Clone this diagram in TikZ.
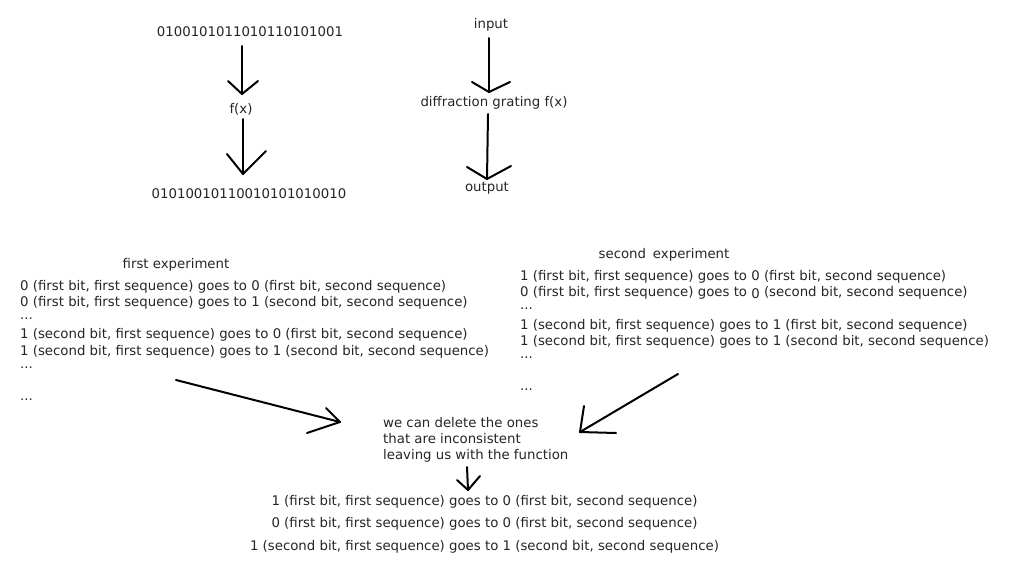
\documentclass[tikz,border=0pt]{standalone}
\usepackage{fontspec}
\setmainfont{DejaVu Sans}
\begin{document}
\begin{tikzpicture}[x=1pt,y=-1pt,
  every node/.style={font=\fontsize{13.3}{16}\selectfont, inner sep=0pt, text=black!85, yshift=-2pt},
  hand/.style={line width=2pt, line cap=round, line join=round},
  row/.style={anchor=west}]
\useasboundingbox[fill=white] (0,0) rectangle (1033,581);

% top left chain
\node (bitsA) at (250,30) {0100101011010110101001};
\node (fx) at (241,107) {f(x)};
\node (bitsB) at (249,192) {01010010110010101010010};
\coordinate (a1s) at (242,44);  \coordinate (a1t) at (242,92);
\coordinate (a1l) at (228,79);  \coordinate (a1r) at (258,79);
\coordinate (a2s) at (243,117); \coordinate (a2t) at (243,172);
\coordinate (a2l) at (227,152); \coordinate (a2r) at (266,149);
\draw[hand] (a1s) -- (a1t);
\draw[hand] (a1l) -- (a1t) -- (a1r);
\draw[hand] (a2s) -- (a2t);
\draw[hand] (a2l) -- (a2t) -- (a2r);

% top right chain
\node (input) at (491,23) {input};
\node (grating) at (494,101) {diffraction grating f(x)};
\node (output) at (487,186) {output};
\coordinate (b1s) at (489,36);  \coordinate (b1t) at (489,90);
\coordinate (b1l) at (472,80);  \coordinate (b1r) at (510,80);
\coordinate (b2s) at (488,112); \coordinate (b2t) at (487,177);
\coordinate (b2l) at (467,165); \coordinate (b2r) at (511,164);
\draw[hand] (b1s) -- (b1t);
\draw[hand] (b1l) -- (b1t) -- (b1r);
\draw[hand] (b2s) -- (b2t);
\draw[hand] (b2l) -- (b2t) -- (b2r);

% first experiment
\node (exp1) at (176,263) {first experiment};
\node[row] (e1r1) at (20,285) {0 (first bit, first sequence) goes to 0 (first bit, second sequence)};
\node[row] (e1r2) at (20,301) {0 (first bit, first sequence) goes to 1 (second bit, second sequence)};
\node[row] (e1r3) at (20,317) {...};
\node[row] (e1r4) at (20,333) {1 (second bit, first sequence) goes to 0 (first bit, second sequence)};
\node[row] (e1r5) at (20,350) {1 (second bit, first sequence) goes to 1 (second bit, second sequence)};
\node[row] (e1r6) at (20,366) {...};
\node[row] (e1r7) at (20,398) {...};

% second experiment
\node (exp2) at (664,253) {second\hspace{0.2em} experiment};
\node[row] (e2r1) at (520,275) {1 (first bit, first sequence) goes to 0 (first bit, second sequence)};
\node[row] (e2r2) at (520,291) {0 (first bit, first sequence) goes to \raisebox{-1.5pt}{0} (second bit, second sequence)};
\node[row] (e2r3) at (520,307) {...};
\node[row] (e2r4) at (520,324) {1 (second bit, first sequence) goes to 1 (first bit, second sequence)};
\node[row] (e2r5) at (520,340) {1 (second bit, first sequence) goes to 1 (second bit, second sequence)};
\node[row] (e2r6) at (520,356) {...};
\node[row] (e2r7) at (520,388) {...};

% note
\node[row, align=left] (note) at (383,438) {we can delete the ones\\that are inconsistent\\leaving us with the function};

% diagonal arrows
\coordinate (c1s) at (176,378); \coordinate (c1t) at (340,420);
\coordinate (c1l) at (307,431); \coordinate (c1r) at (326,406);
\draw[hand] (c1s) -- (c1t);
\draw[hand] (c1l) -- (c1t) -- (c1r);
\coordinate (c2s) at (678,372); \coordinate (c2t) at (580,430);
\coordinate (c2l) at (584,404); \coordinate (c2r) at (616,431);
\draw[hand] (c2s) -- (c2t);
\draw[hand] (c2l) -- (c2t) -- (c2r);

% small arrow
\coordinate (d1s) at (467,465); \coordinate (d1t) at (468,488);
\coordinate (d1l) at (457,478); \coordinate (d1r) at (480,474);
\draw[hand] (d1s) -- (d1t);
\draw[hand] (d1l) -- (d1t) -- (d1r);

% result
\node (res1) at (484.5,500) {1 (first bit, first sequence) goes to 0 (first bit, second sequence)};
\node (res2) at (484.5,522) {0 (first bit, first sequence) goes to 0 (first bit, second sequence)};
\node (res3) at (484.5,545) {1 (second bit, first sequence) goes to 1 (second bit, second sequence)};
\end{tikzpicture}
\end{document}
